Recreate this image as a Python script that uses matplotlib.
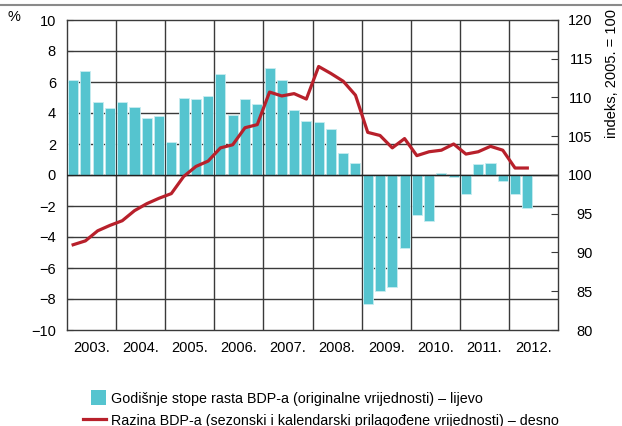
import matplotlib
matplotlib.use("Agg")
import numpy as np
import matplotlib.pyplot as plt
from matplotlib.lines import Line2D
from matplotlib.patches import Patch, Rectangle
from matplotlib.legend_handler import HandlerPatch

plt.rcParams['font.family'] = ['Liberation Sans', 'DejaVu Sans']

years = ['2003.', '2004.', '2005.', '2006.', '2007.', '2008.', '2009.', '2010.', '2011.', '2012.']

# godisnje stope rasta BDP-a, %, 2003 Q1 - 2012 Q2
growth = [6.1, 6.7, 4.7, 4.3,
          4.7, 4.4, 3.7, 3.8,
          2.1, 5.0, 4.9, 5.1,
          6.5, 3.9, 4.9, 4.6,
          6.9, 6.1, 4.2, 3.5,
          3.4, 3.0, 1.4, 0.8,
          -8.3, -7.5, -7.2, -4.7,
          -2.6, -2.95, 0.1, -0.1,
          -1.2, 0.7, 0.8, -0.4,
          -1.2, -2.1]

# razina BDP-a, indeks 2005. = 100
level = [91.0, 91.5, 92.8, 93.5,
         94.1, 95.4, 96.3, 97.0,
         97.6, 99.8, 101.1, 101.8,
         103.5, 103.9, 106.1, 106.5,
         110.7, 110.2, 110.5, 109.8,
         114.0, 113.1, 112.1, 110.3,
         105.5, 105.1, 103.5, 104.7,
         102.5, 103.0, 103.2, 104.0,
         102.7, 103.0, 103.7, 103.2,
         100.9, 100.9]

bar_color = '#55C4CF'
line_color = '#B8202B'
grid_color = '#3a3a3a'


def square_patch(legend, orig_handle, xdescent, ydescent, width, height, fontsize):
    # square legend key, sitting at the right end of the handle box
    s = 11.0
    return Rectangle((-xdescent + width - s, -ydescent + (height - s) / 2), s, s)


fig = plt.figure(figsize=(6.22, 4.26), dpi=100)
ax = fig.add_axes([67 / 622, 1 - 330 / 426, 491 / 622, 310 / 426])
ax2 = ax.twinx()

x = np.arange(len(growth))
ax.bar(x, growth, width=0.82, color=bar_color, edgecolor='#c8ecf0', linewidth=0.6, zorder=3)
ax.set_ylim(-10, 10)
ax.set_xlim(-0.5, 39.5)
ax.set_yticks(np.arange(-10, 11, 2))
ax.set_yticklabels([str(v).replace('-', '\u2212') for v in range(-10, 11, 2)], fontsize=10.5)
ax.set_xticks([1.5 + 4 * i for i in range(len(years))])
ax.set_xticklabels(years, fontsize=10.5)
ax.tick_params(axis='x', length=0, pad=8)
ax.tick_params(axis='y', direction='in', length=4, pad=8, color=grid_color)
for v in range(-8, 10, 2):
    ax.axhline(v, color=grid_color, lw=1.0, zorder=1)
for i in range(1, len(years)):
    ax.axvline(-0.5 + 4 * i, color=grid_color, lw=1.0, zorder=1)
ax.axhline(0, color='#222222', lw=1.0, zorder=4)
for s in ax.spines.values():
    s.set_color(grid_color)
    s.set_linewidth(1.0)

ax2.plot(np.arange(len(level)), level, color=line_color, lw=2.3, zorder=5)
ax2.set_ylim(80, 120)
ax2.set_yticks(np.arange(80, 121, 5))
ax2.set_yticklabels([str(v) for v in range(80, 121, 5)], fontsize=10.5, ha='right')
ax2.tick_params(axis='y', direction='in', length=5, pad=25, color=grid_color)
for s in ax2.spines.values():
    s.set_visible(False)

fig.text(612 / 622, 1 - 74 / 426, 'indeks, 2005. = 100', rotation=90,
         fontsize=10.5, ha='center', va='center')
fig.text(8 / 622, 1 - 17 / 426, '%', fontsize=10.5, va='center', ha='left')
fig.add_artist(Line2D([0, 1], [1 - 5 / 426, 1 - 5 / 426], color='#8a8a8a', lw=1.5))

handles = [Patch(facecolor=bar_color, edgecolor='none'),
           Line2D([0], [0], color=line_color, lw=2.3)]
labels = ['Godišnje stope rasta BDP-a (originalne vrijednosti) \u2013 lijevo',
          'Razina BDP-a (sezonski i kalendarski prilagođene vrijednosti) \u2013 desno']
fig.legend(handles, labels, loc='upper left', bbox_to_anchor=(83 / 622, 1 - 390 / 426),
           frameon=False, fontsize=10.3, handlelength=1.6, handleheight=1.3,
           handletextpad=0.35, labelspacing=0.5, borderaxespad=0, borderpad=0,
           handler_map={Patch: HandlerPatch(patch_func=square_patch)})

fig.savefig('out.png', dpi=100)
